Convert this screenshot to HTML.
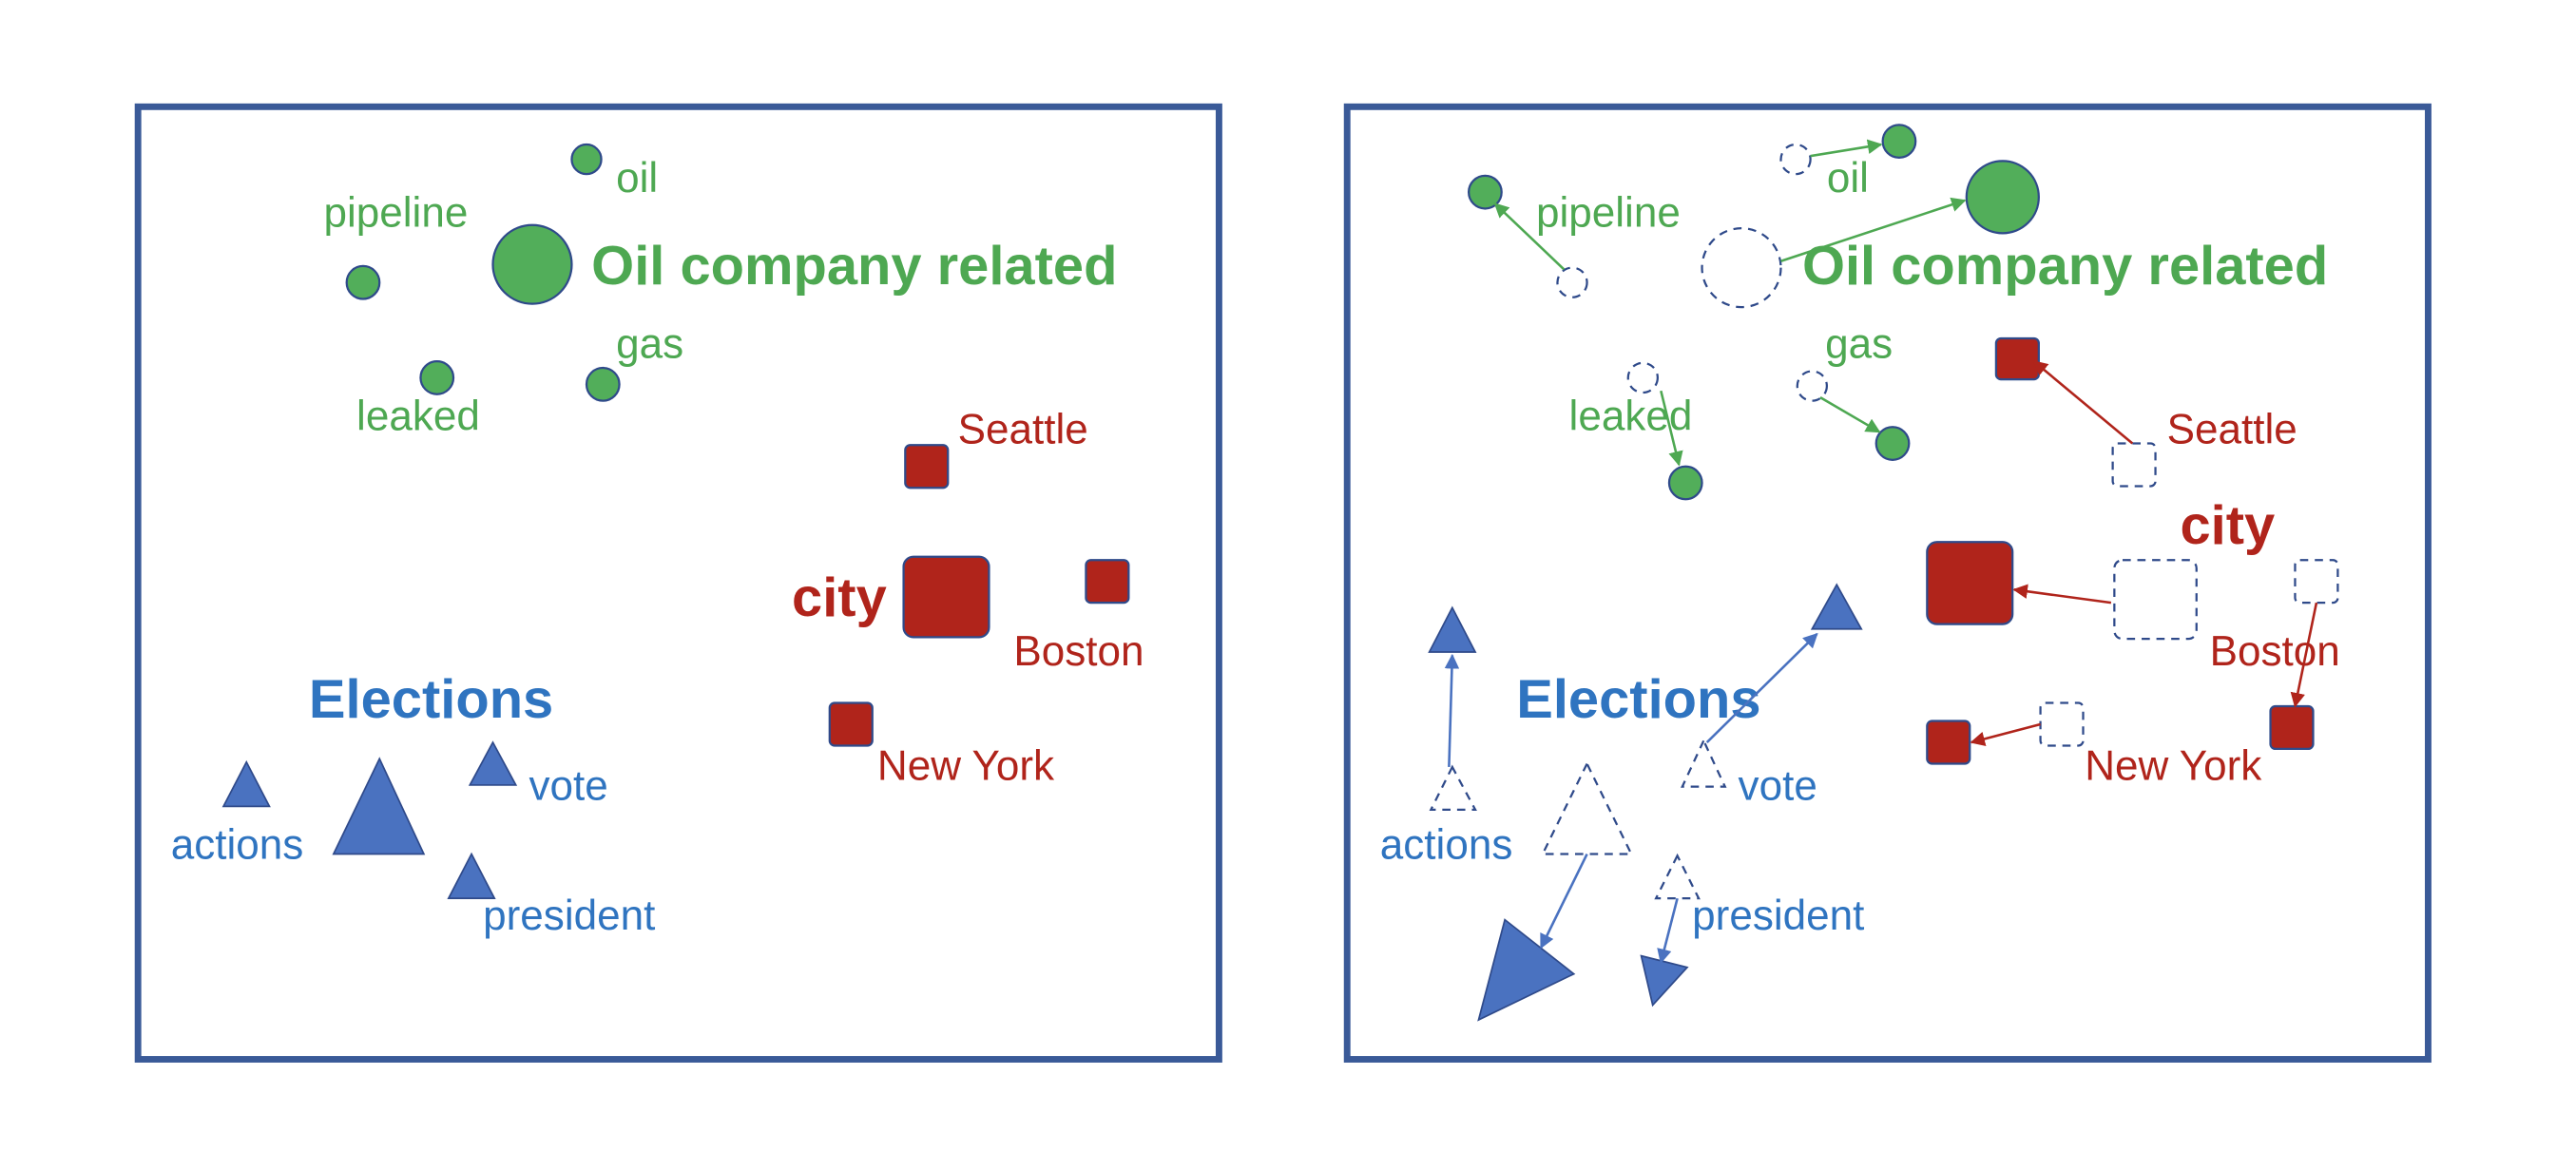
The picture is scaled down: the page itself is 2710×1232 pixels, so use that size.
<!DOCTYPE html>
<html><head><meta charset="utf-8"><style>
html,body{margin:0;padding:0;background:#fff;}
svg{display:block;}
text{font-family:"Liberation Sans",Arial,sans-serif;}
.g{fill:#4ea852;font-size:25.5px;}
.r{fill:#b0241b;font-size:25.5px;}
.b{fill:#2f74c0;font-size:25.5px;}
.big{font-size:33.5px;font-weight:bold;}
.fc{fill:#52ae5a;stroke:#2f4a8a;stroke-width:1.3;}
.fs{fill:#b0241b;stroke:#2f4a8a;stroke-width:1.3;}
.ft{fill:#4a72c0;stroke:#2f4a8a;stroke-width:1;}
.d{fill:none;stroke:#2f4a8a;stroke-width:1.3;stroke-dasharray:5,4;}
</style></head><body>
<svg width="2710" height="1232" viewBox="0 0 1568 713" preserveAspectRatio="none" xmlns="http://www.w3.org/2000/svg">
<defs>
<marker id="ag" viewBox="0 0 10 10" refX="9" refY="5" markerWidth="6" markerHeight="6" orient="auto"><path d="M0,0L10,5L0,10z" fill="#4ea852"/></marker>
<marker id="ar" viewBox="0 0 10 10" refX="9" refY="5" markerWidth="6" markerHeight="6" orient="auto"><path d="M0,0L10,5L0,10z" fill="#b0241b"/></marker>
<marker id="ab" viewBox="0 0 10 10" refX="9" refY="5" markerWidth="6" markerHeight="6" orient="auto"><path d="M0,0L10,5L0,10z" fill="#4a72c0"/></marker>
</defs>
<rect x="84" y="65" width="658" height="580" fill="none" stroke="#3a5a98" stroke-width="4"/>
<rect x="820" y="65" width="658" height="580" fill="none" stroke="#3a5a98" stroke-width="4"/>

<!-- LEFT -->
<circle class="fc" cx="357" cy="97" r="9"/>
<text class="g" x="375" y="117">oil</text>
<text class="g" x="197" y="138">pipeline</text>
<circle class="fc" cx="221" cy="172" r="10"/>
<circle class="fc" cx="324" cy="161" r="24"/>
<text class="g big" x="360" y="173">Oil company related</text>
<text class="g" x="375" y="218">gas</text>
<circle class="fc" cx="367" cy="234" r="10"/>
<circle class="fc" cx="266" cy="230" r="10"/>
<text class="g" x="217" y="262">leaked</text>
<text class="r" x="583" y="270">Seattle</text>
<rect class="fs" x="551" y="271" width="26" height="26" rx="3"/>
<text class="r big" x="482" y="375">city</text>
<rect class="fs" x="550" y="339" width="52" height="49" rx="6"/>
<rect class="fs" x="661" y="341" width="26" height="26" rx="3"/>
<text class="r" x="617" y="405">Boston</text>
<rect class="fs" x="505" y="428" width="26" height="26" rx="3"/>
<text class="r" x="534" y="475">New York</text>
<text class="b big" x="188" y="437">Elections</text>
<polygon class="ft" points="150,464 136,491 164,491"/>
<text class="b" x="104" y="523">actions</text>
<polygon class="ft" points="231,462 203,520 258,520"/>
<polygon class="ft" points="300,452 286,478 314,478"/>
<text class="b" x="322" y="487">vote</text>
<polygon class="ft" points="287,520 273,547 301,547"/>
<text class="b" x="294" y="566">president</text>

<!-- RIGHT -->
<circle class="fc" cx="904" cy="117" r="10"/>
<circle class="d" cx="957" cy="172" r="9"/>
<line x1="952" y1="164" x2="910" y2="124" stroke="#4ea852" stroke-width="1.5" marker-end="url(#ag)"/>
<text class="g" x="935" y="138">pipeline</text>
<circle class="d" cx="1093" cy="97" r="9"/>
<circle class="fc" cx="1156" cy="86" r="10"/>
<line x1="1102" y1="95" x2="1145" y2="88" stroke="#4ea852" stroke-width="1.5" marker-end="url(#ag)"/>
<text class="g" x="1112" y="117">oil</text>
<circle class="d" cx="1060" cy="163" r="24"/>
<circle class="fc" cx="1219" cy="120" r="22"/>
<line x1="1084" y1="159" x2="1196" y2="122" stroke="#4ea852" stroke-width="1.5" marker-end="url(#ag)"/>
<text class="g big" x="1097" y="173">Oil company related</text>
<text class="g" x="1111" y="218">gas</text>
<circle class="d" cx="1103" cy="235" r="9"/>
<circle class="fc" cx="1152" cy="270" r="10"/>
<line x1="1108" y1="242" x2="1144" y2="263" stroke="#4ea852" stroke-width="1.5" marker-end="url(#ag)"/>
<circle class="d" cx="1000" cy="230" r="9"/>
<circle class="fc" cx="1026" cy="294" r="10"/>
<line x1="1011" y1="238" x2="1022" y2="283" stroke="#4ea852" stroke-width="1.5" marker-end="url(#ag)"/>
<text class="g" x="955" y="262">leaked</text>
<rect class="fs" x="1215" y="206" width="26" height="25" rx="3"/>
<rect class="d" x="1286" y="270" width="26" height="26" rx="3"/>
<line x1="1298" y1="270" x2="1238" y2="220" stroke="#b0241b" stroke-width="1.5" marker-end="url(#ar)"/>
<text class="r" x="1319" y="270">Seattle</text>
<text class="r big" x="1327" y="331">city</text>
<rect class="fs" x="1173" y="330" width="52" height="50" rx="6"/>
<rect class="d" x="1287" y="341" width="50" height="48" rx="5"/>
<line x1="1285" y1="367" x2="1226" y2="359" stroke="#b0241b" stroke-width="1.5" marker-end="url(#ar)"/>
<rect class="d" x="1397" y="341" width="26" height="26" rx="3"/>
<rect class="fs" x="1382" y="430" width="26" height="26" rx="3"/>
<line x1="1410" y1="367" x2="1397" y2="430" stroke="#b0241b" stroke-width="1.5" marker-end="url(#ar)"/>
<text class="r" x="1345" y="405">Boston</text>
<rect class="d" x="1242" y="428" width="26" height="26" rx="3"/>
<rect class="fs" x="1173" y="439" width="26" height="26" rx="3"/>
<line x1="1242" y1="441" x2="1200" y2="452" stroke="#b0241b" stroke-width="1.5" marker-end="url(#ar)"/>
<text class="r" x="1269" y="475">New York</text>
<text class="b big" x="923" y="437">Elections</text>
<polygon class="ft" points="884,370 870,397 898,397"/>
<polygon class="d" points="884,467 871,493 898,493"/>
<line x1="882" y1="467" x2="884" y2="399" stroke="#4a72c0" stroke-width="1.5" marker-end="url(#ab)"/>
<text class="b" x="840" y="523">actions</text>
<polygon class="ft" points="1118,356 1103,383 1133,383"/>
<polygon class="d" points="1037,451 1024,479 1050,479"/>
<line x1="1039" y1="452" x2="1106" y2="386" stroke="#4a72c0" stroke-width="1.5" marker-end="url(#ab)"/>
<text class="b" x="1058" y="487">vote</text>
<polygon class="d" points="966,465 939,520 993,520"/>
<polygon class="ft" points="916,560 958,593 900,621"/>
<line x1="966" y1="520" x2="938" y2="577" stroke="#4a72c0" stroke-width="1.5" marker-end="url(#ab)"/>
<polygon class="d" points="1021,521 1008,547 1034,547"/>
<polygon class="ft" points="999,582 1027,589 1006,612"/>
<line x1="1021" y1="547" x2="1011" y2="586" stroke="#4a72c0" stroke-width="1.5" marker-end="url(#ab)"/>
<text class="b" x="1030" y="566">president</text>
</svg>
</body></html>
